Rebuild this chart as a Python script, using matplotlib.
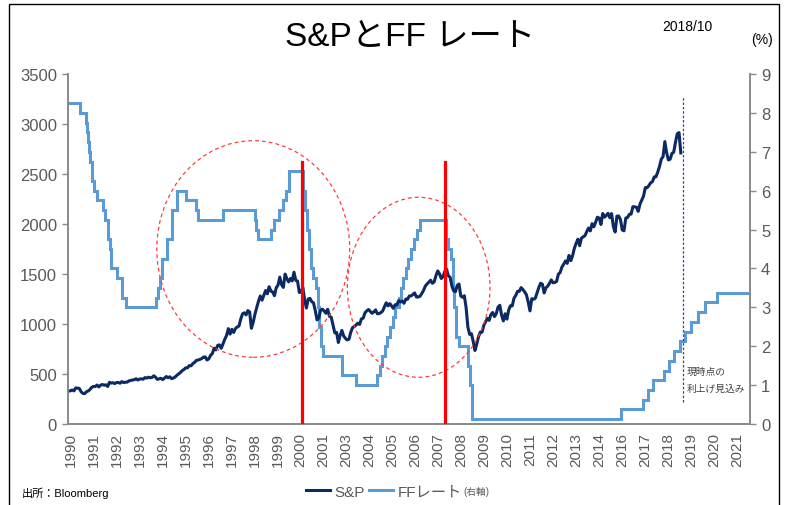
import numpy as np
import pandas as pd
import matplotlib
matplotlib.use("Agg")
import matplotlib.pyplot as plt
from matplotlib.patches import Ellipse, Rectangle

plt.rcParams['font.family'] = ['Liberation Sans', 'Noto Sans CJK JP', 'DejaVu Sans']

# S&P 500 monthly, Jan 1990 - Oct 2018
sp_start_year = 1990
sp_values = [
    329, 332, 340, 331, 361, 358, 356, 323, 306, 304, 322, 330,        # 1990
    344, 367, 375, 375, 390, 371, 388, 395, 388, 392, 375, 417,        # 1991
    409, 413, 404, 415, 415, 408, 424, 414, 418, 419, 431, 436,        # 1992
    439, 443, 452, 440, 450, 451, 448, 464, 459, 468, 462, 466,        # 1993
    482, 467, 446, 451, 457, 444, 458, 475, 463, 472, 454, 459,        # 1994
    470, 487, 501, 515, 533, 545, 562, 562, 584, 582, 605, 616,        # 1995
    636, 640, 646, 654, 669, 671, 640, 652, 687, 705, 757, 741,        # 1996
    786, 791, 757, 801, 848, 885, 954, 899, 947, 915, 955, 970,        # 1997
    980, 1049, 1102, 1112, 1091, 1134, 1121, 957, 1017, 1099, 1164, 1229,   # 1998
    1280, 1238, 1286, 1335, 1302, 1373, 1329, 1320, 1283, 1363, 1389, 1469, # 1999
    1394, 1366, 1499, 1452, 1421, 1455, 1431, 1518, 1437, 1429, 1315, 1320, # 2000
    1366, 1240, 1160, 1249, 1256, 1224, 1211, 1134, 1041, 1060, 1139, 1148, # 2001
    1130, 1107, 1147, 1077, 1067, 990, 912, 916, 815, 886, 936, 880,        # 2002
    856, 841, 848, 917, 964, 975, 990, 1008, 996, 1051, 1058, 1112,         # 2003
    1131, 1145, 1126, 1107, 1121, 1141, 1102, 1104, 1115, 1130, 1174, 1212, # 2004
    1181, 1204, 1181, 1157, 1192, 1191, 1234, 1220, 1229, 1207, 1249, 1248, # 2005
    1280, 1281, 1295, 1311, 1270, 1270, 1277, 1304, 1336, 1378, 1401, 1418, # 2006
    1438, 1407, 1421, 1482, 1531, 1503, 1455, 1474, 1527, 1549, 1481, 1468, # 2007
    1379, 1331, 1323, 1386, 1400, 1280, 1267, 1283, 1165, 969, 896, 903,    # 2008
    826, 735, 798, 873, 919, 919, 987, 1021, 1057, 1036, 1096, 1115,        # 2009
    1074, 1104, 1169, 1187, 1089, 1031, 1102, 1049, 1141, 1183, 1181, 1258, # 2010
    1286, 1327, 1326, 1364, 1345, 1321, 1292, 1219, 1131, 1253, 1247, 1258, # 2011
    1312, 1366, 1408, 1398, 1310, 1362, 1379, 1407, 1441, 1412, 1416, 1426, # 2012
    1498, 1515, 1569, 1598, 1631, 1606, 1686, 1633, 1682, 1757, 1806, 1848, # 2013
    1783, 1859, 1872, 1884, 1924, 1960, 1931, 2003, 1972, 2018, 2068, 2059, # 2014
    1995, 2105, 2068, 2086, 2107, 2063, 2104, 1972, 1920, 2079, 2080, 2044, # 2015
    1940, 1932, 2060, 2065, 2097, 2099, 2174, 2171, 2168, 2126, 2199, 2239, # 2016
    2279, 2364, 2363, 2384, 2412, 2423, 2470, 2472, 2519, 2575, 2648, 2674, # 2017
    2824, 2714, 2641, 2648, 2705, 2718, 2816, 2902, 2914, 2711,             # 2018
]

# FF target rate changes (mid of range after 2008), incl. projected hikes
ff_dates = [
    '1990-01-01', '1990-07-13', '1990-10-29', '1990-11-13', '1990-12-07', '1990-12-18',
    '1991-01-08', '1991-02-01', '1991-03-08', '1991-04-30', '1991-08-06', '1991-09-13',
    '1991-10-31', '1991-11-06', '1991-12-06', '1991-12-20',
    '1992-04-09', '1992-07-02', '1992-09-04',
    '1994-02-04', '1994-03-22', '1994-04-18', '1994-05-17', '1994-08-16', '1994-11-15',
    '1995-02-01', '1995-07-06', '1995-12-19', '1996-01-31', '1997-03-25',
    '1998-09-29', '1998-10-15', '1998-11-17', '1999-06-30', '1999-08-24', '1999-11-16',
    '2000-02-02', '2000-03-21', '2000-05-16',
    '2001-01-03', '2001-01-31', '2001-03-20', '2001-04-18', '2001-05-15', '2001-06-27',
    '2001-08-21', '2001-09-17', '2001-10-02', '2001-11-06', '2001-12-11',
    '2002-11-06', '2003-06-25',
    '2004-06-30', '2004-08-10', '2004-09-21', '2004-11-10', '2004-12-14',
    '2005-02-02', '2005-03-22', '2005-05-03', '2005-06-30', '2005-08-09', '2005-09-20',
    '2005-11-01', '2005-12-13', '2006-01-31', '2006-03-28', '2006-05-10', '2006-06-29',
    '2007-09-18', '2007-10-31', '2007-12-11',
    '2008-01-22', '2008-01-30', '2008-03-18', '2008-04-30', '2008-10-08', '2008-10-29',
    '2008-12-16', '2015-12-16', '2016-12-14', '2017-03-15', '2017-06-14', '2017-12-13',
    '2018-03-21', '2018-06-13', '2018-09-26', '2018-12-19',
    '2019-03-20', '2019-08-01', '2019-11-20', '2020-06-15', '2021-12-31',
]
ff_rates = [
    8.25, 8.00, 7.75, 7.50, 7.25, 7.00,
    6.75, 6.25, 6.00, 5.75, 5.50, 5.25,
    5.00, 4.75, 4.50, 4.00,
    3.75, 3.25, 3.00,
    3.25, 3.50, 3.75, 4.25, 4.75, 5.50,
    6.00, 5.75, 5.50, 5.25, 5.50,
    5.25, 5.00, 4.75, 5.00, 5.25, 5.50,
    5.75, 6.00, 6.50,
    6.00, 5.50, 5.00, 4.50, 4.00, 3.75,
    3.50, 3.00, 2.50, 2.00, 1.75,
    1.25, 1.00,
    1.25, 1.50, 1.75, 2.00, 2.25,
    2.50, 2.75, 3.00, 3.25, 3.50, 3.75,
    4.00, 4.25, 4.50, 4.75, 5.00, 5.25,
    4.75, 4.50, 4.25,
    3.50, 3.00, 2.25, 2.00, 1.50, 1.00,
    0.125, 0.375, 0.625, 0.875, 1.125, 1.375,
    1.625, 1.875, 2.125, 2.375,
    2.625, 2.875, 3.125, 3.375, 3.375,
]

x_labels = ['1990', '1991', '1992', '1993', '1994', '1995', '1996', '1997', '1998',
            '1999', '2000', '2001', '2003', '2004', '2005', '2006', '2007', '2008',
            '2009', '2010', '2011', '2012', '2013', '2014', '2016', '2017', '2018',
            '2019', '2020', '2021']

cut_start = [2000.96, 2007.66]        # red lines: start of rate cuts
current_point = 2018.86               # dotted line: now


def frac_year(s):
    d = pd.Timestamp(s)
    return d.year + (d.dayofyear - 1) / 365.25


sp_x = sp_start_year + np.arange(len(sp_values)) / 12
ff_x = [frac_year(d) for d in ff_dates]

fig = plt.figure(figsize=(7.91, 5.06), dpi=100)
ax = fig.add_axes([68 / 791, 1 - 425 / 506, (750 - 68) / 791, 350 / 506])
ax2 = ax.twinx()
ax.set_zorder(ax2.get_zorder() + 1)
ax.patch.set_visible(False)

navy = '#0b2a64'
light = '#5b9bd5'
grey = '#595959'

l2, = ax2.step(ff_x, ff_rates, where='post', color=light, lw=2.2, solid_joinstyle='miter')
l1, = ax.plot(sp_x, sp_values, color=navy, lw=2.2)

ax.set_xlim(1989.97, 2022.0)
ax.set_ylim(0, 3500)
ax2.set_ylim(0, 9)
ax.set_yticks(np.arange(0, 3501, 500))
ax2.set_yticks(np.arange(0, 10, 1))

tick_start, tick_step = 1990.1, 1.08
ax.set_xticks(tick_start + tick_step * np.arange(len(x_labels)))
ax.set_xticklabels(x_labels, rotation=90, fontsize=11, color=grey)
ax.tick_params(axis='x', length=0, pad=6)
ax.tick_params(axis='y', length=4, width=1, color='#898989', labelsize=12,
               labelcolor=grey, pad=4)
ax2.tick_params(axis='y', length=4, width=1, color='#898989', labelsize=12,
                labelcolor=grey, pad=4)

for a in (ax, ax2):
    a.spines['top'].set_visible(False)
    for s in ('left', 'right', 'bottom'):
        a.spines[s].set_color('#898989')
        a.spines[s].set_linewidth(1.2)

# red lines at the start of rate cuts
for xc in cut_start:
    ax.plot([xc, xc], [0, 2625], color='#ff0000', lw=2.3, zorder=5)

# dashed ellipses
ax.add_patch(Ellipse((1998.67, 1750), 9.06, 2166, fill=False, ec='#ff3b3b',
                     ls=(0, (3, 2.5)), lw=0.9, zorder=4))
ax.add_patch(Ellipse((2006.44, 1367), 6.70, 1800, fill=False, ec='#ff3b3b',
                     ls=(0, (3, 2.5)), lw=0.9, zorder=4))

# current point
ax.plot([current_point, current_point], [220, 3280], color='#2e4a8a',
        lw=0.9, ls=(0, (2, 1.5)), zorder=4)
ax.text(current_point + 0.15, 450, '現時点の\n利上げ見込み', fontsize=7,
        color='#404040', ha='left', va='center', linespacing=1.9)

# titles and notes
fig.text(0.518, 0.925, 'S&PとFF レート', fontsize=24, ha='center', va='center')
fig.text(0.869, 0.946, '2018/10', fontsize=10, ha='center', va='center')
fig.text(0.963, 0.921, '(%)', fontsize=10, ha='center', va='center')
fig.text(0.028, 0.026, '出所：Bloomberg', fontsize=8, ha='left', va='center')

leg = fig.legend([l1, l2], ['S&P', 'FFレート'], loc='center',
                 bbox_to_anchor=(0.485, 0.026), ncol=2, frameon=False,
                 fontsize=11, handlelength=1.6, columnspacing=0.3,
                 handletextpad=0.25, borderpad=0)
for t in leg.get_texts():
    t.set_color(grey)
fig.canvas.draw()
bb = leg.get_texts()[1].get_window_extent()
x0, y0 = fig.transFigure.inverted().transform((bb.x1, bb.y1))
fig.text(x0 + 0.002, y0 - 0.002, '(右軸)', fontsize=7, color=grey, ha='left', va='top')

# outer frame
fig.patches.append(Rectangle((9 / 791, -0.05), 770 / 791, 1 - 5 / 506 + 0.05,
                             transform=fig.transFigure, fill=False, ec='black', lw=1))

fig.savefig('out.png', dpi=100)
